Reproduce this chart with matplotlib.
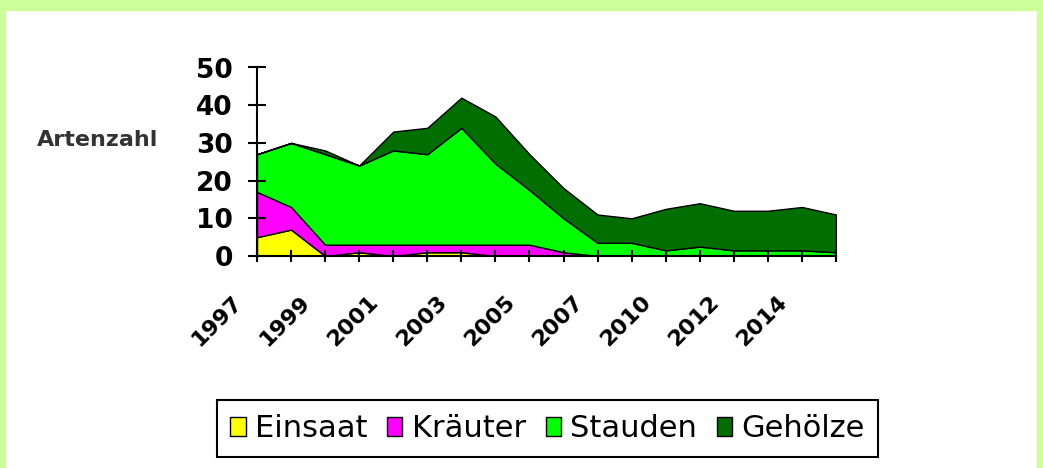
import matplotlib.pyplot as plt
from matplotlib.patches import Rectangle, Patch
from matplotlib.transforms import ScaledTranslation

plt.rcParams['font.family'] = ['DejaVu Sans']

# categories (one point per survey year)
jahre = ['1997', '1998', '1999', '2000', '2001', '2002', '2003', '2004', '2005',
         '2006', '2007', '2008', '2010', '2011', '2012', '2013', '2014', '2015']

# species numbers per group (stacked)
einsaat = [5, 7, 0, 1, 0, 1, 1, 0, 0, 0, 0, 0, 0, 0, 0, 0, 0, 0]
kraeuter = [12, 6, 3, 2, 3, 2, 2, 3, 3, 1, 0, 0, 0, 0, 0, 0, 0, 0]
stauden = [10, 17, 24, 21, 25, 24, 31, 21.5, 14.5, 9, 3.5, 3.5, 1.5, 2.5, 1.5, 1.5, 1.5, 1]
gehoelze = [0, 0, 1, 0, 5, 7, 8, 12.5, 9.5, 8, 7.5, 6.5, 11, 11.5, 10.5, 10.5, 11.5, 10]

namen = ['Einsaat', 'Kräuter', 'Stauden', 'Gehölze']
farben = ['#ffff00', '#ff00ff', '#00ff00', '#006e00']

fig = plt.figure(figsize=(10.43, 4.68), dpi=100)

# light green frame around the picture
rahmen = '#ccff99'
fig.patches.append(Rectangle((0, 1 - 10 / 468), 1, 10 / 468, transform=fig.transFigure, color=rahmen))
fig.patches.append(Rectangle((0, 0), 5 / 1043, 1, transform=fig.transFigure, color=rahmen))
fig.patches.append(Rectangle((1 - 6 / 1043, 0), 6 / 1043, 1, transform=fig.transFigure, color=rahmen))

ax = fig.add_axes([257 / 1043, 1 - 256 / 468, 579 / 1043, 188.5 / 468])
x = list(range(len(jahre)))
ax.stackplot(x, einsaat, kraeuter, stauden, gehoelze, colors=farben,
             edgecolor='black', linewidth=1)

ax.set_xlim(0, len(jahre) - 1)
ax.set_ylim(0, 50)
ax.set_yticks(range(0, 51, 10))
ax.set_xticks(x)
ax.set_xticklabels([j if i % 2 == 0 else '' for i, j in enumerate(jahre)],
                   rotation=45, ha='right', va='top', rotation_mode='anchor')

for s in ['top', 'right']:
    ax.spines[s].set_visible(False)
for s in ['left', 'bottom']:
    ax.spines[s].set_linewidth(1.5)

ax.tick_params(axis='y', direction='inout', length=13, width=1.5, pad=11,
               labelsize=19)
ax.tick_params(axis='x', direction='inout', length=8, width=1.5, pad=22,
               labelsize=16)
for lab in ax.get_yticklabels() + ax.get_xticklabels():
    lab.set_fontweight('bold')

fig.text(37 / 1043, 1 - 140 / 468, 'Artenzahl', fontsize=16, fontweight='bold',
         color='#333333', ha='left', va='center')

handles = [Patch(facecolor=f, edgecolor='black', linewidth=1) for f in farben]
leg = fig.legend(handles, namen, loc='center', bbox_to_anchor=(547.5 / 1043, 1 - 428.5 / 468),
                 ncol=4, fontsize=22, frameon=True, fancybox=False, framealpha=1,
                 edgecolor='black', handlelength=0.5, handleheight=0.6,
                 handletextpad=0.3, columnspacing=0.65, borderpad=0.45)
leg.get_frame().set_linewidth(1.5)

# shift the rotated year labels a bit to the left, like in the original
fig.canvas.draw()
versatz = ScaledTranslation(-25 / 100, 0, fig.dpi_scale_trans)
for t in ax.xaxis.get_major_ticks():
    t.label1.set_transform(t.label1.get_transform() + versatz)

fig.savefig('out.png', dpi=100, facecolor='white')
